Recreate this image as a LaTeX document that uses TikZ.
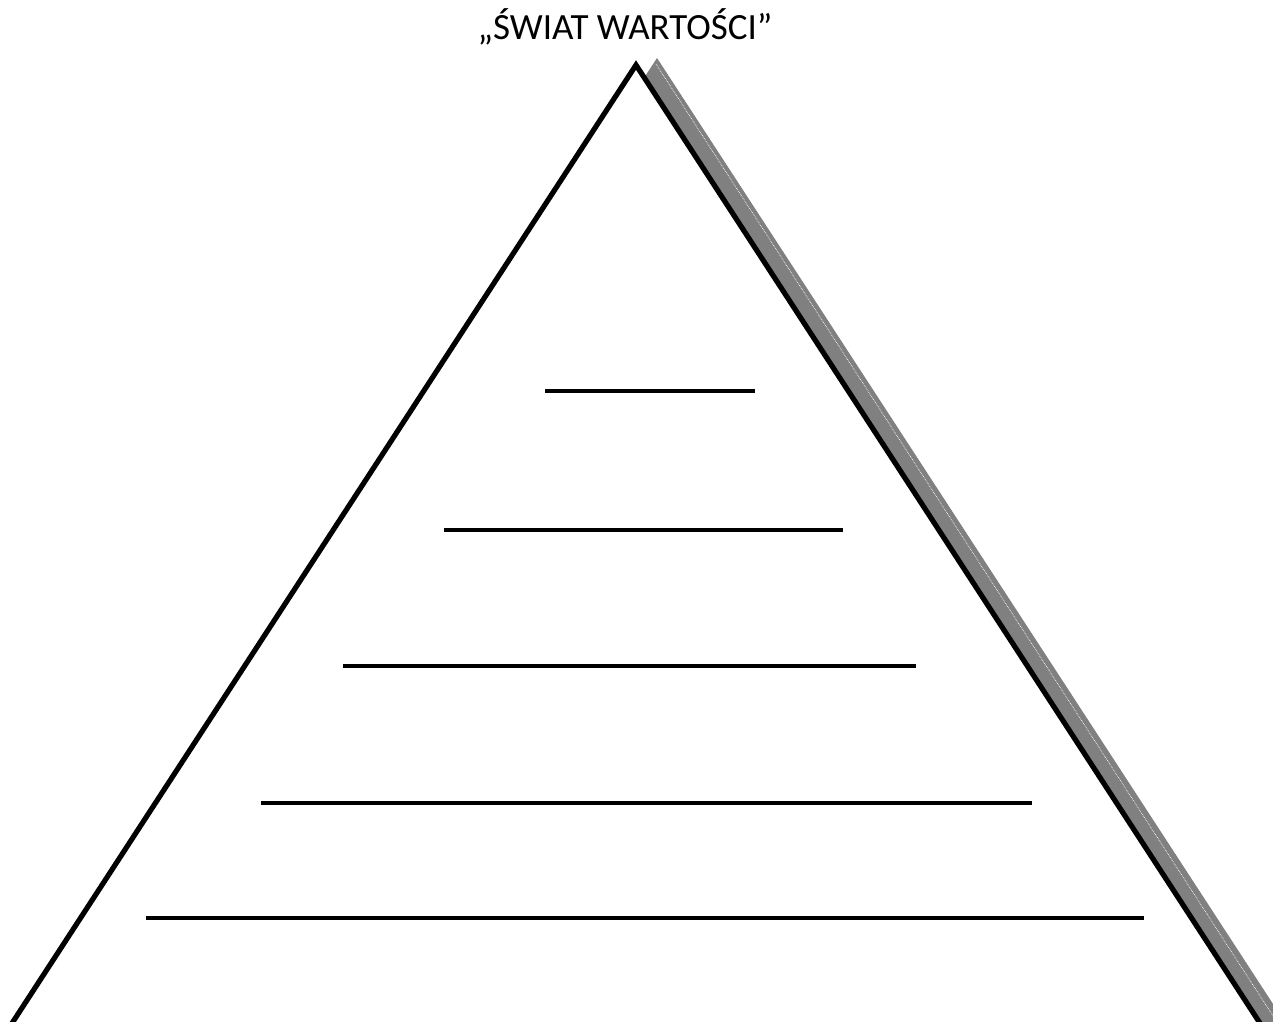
\documentclass[tikz,border=0pt]{standalone}
\usepackage{fontspec}
\setmainfont{Carlito}
\begin{document}
\begin{tikzpicture}[x=1pt,y=-1pt,
  edge/.style={line width=5.2pt,line join=miter,black},
  level/.style={line width=4pt,black}]
\useasboundingbox (0,0) rectangle (1273,1021);
\clip (0,0) rectangle (1273,1021);
\fill[white] (0,0) rectangle (1273,1021);
% shadow
\coordinate (A) at (636,65);
\coordinate (L) at (-10,1057);
\coordinate (R) at (1282,1057);
\fill[gray] ([shift={(21,-7)}]A) -- ([shift={(21,-7)}]L) -- ([shift={(21,-7)}]R) -- cycle;
\draw[white,line width=0.7pt,densely dotted] ([shift={(20,-1)}]A) -- ([shift={(17,-1)}]R);
% main triangle
\filldraw[edge,fill=white] (A) -- (L) -- (R) -- cycle;
% levels
\draw[level] (545,391) -- (755,391);
\draw[level] (444,530) -- (843,530);
\draw[level] (343,666) -- (916,666);
\draw[level] (261,803) -- (1032,803);
\draw[level] (146,918) -- (1144,918);
\node[anchor=base,font=\fontsize{37}{44}\selectfont,inner sep=0pt] (title) at (625,39) {„ŚWIAT WARTOŚCI”};
\end{tikzpicture}
\end{document}
